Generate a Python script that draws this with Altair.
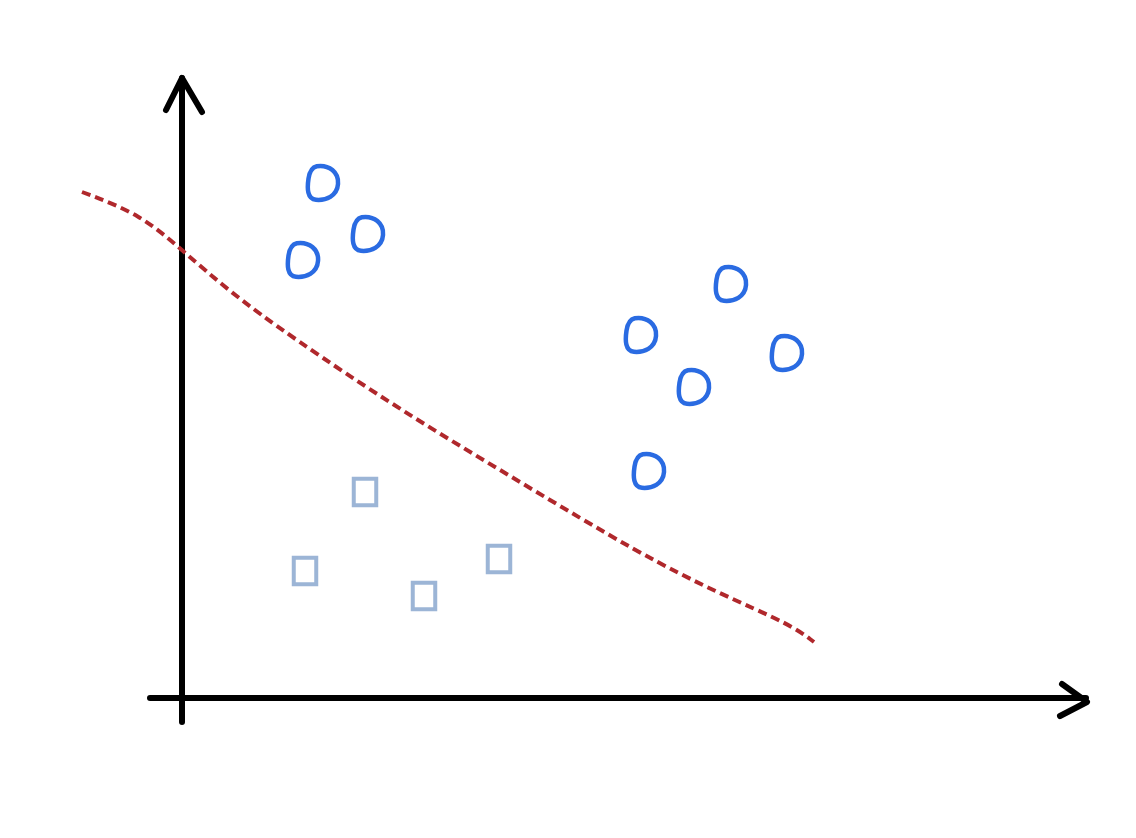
import altair as alt
import pandas as pd

# Hand-drawn sketch: two classes separated by a decision curve
circle_x = [323, 368, 303, 731, 641, 787, 694, 649]
circle_y = [183, 234, 260, 284, 335, 353, 387, 471]

square_x = [365, 305, 424, 499]
square_y = [492, 571, 596, 559]

curve_x = [82, 140, 182, 230, 290, 400, 520, 640, 720, 790, 814]
curve_y = [192, 214, 250, 292, 336, 410, 482, 554, 594, 624, 642]

# axis strokes (sketch lines)
axis_id = ["y", "y", "x", "x", "ya", "ya", "ya", "xa", "xa", "xa"]
axis_px = [182, 182, 150, 1086, 166, 182, 202, 1062, 1087, 1060]
axis_py = [78, 722, 698, 698, 110, 78, 112, 684, 702, 716]

W, H = 1120, 822
xs = alt.Scale(domain=[8, 8 + W], nice=False, zero=False)
ys = alt.Scale(domain=[8, 8 + H], nice=False, zero=False, reverse=True)

circles = pd.DataFrame({"x": circle_x, "y": circle_y})
squares = pd.DataFrame({"x": square_x, "y": square_y})
curve = pd.DataFrame({"x": curve_x, "y": curve_y, "o": list(range(len(curve_x)))})
axes = pd.DataFrame({"id": axis_id, "x": axis_px, "y": axis_py, "o": list(range(len(axis_id)))})

X = lambda: alt.X("x:Q", scale=xs, axis=None)
Y = lambda: alt.Y("y:Q", scale=ys, axis=None)

axis_layer = alt.Chart(axes).mark_line(
    color="black", strokeWidth=6, strokeCap="round", strokeJoin="round"
).encode(x=X(), y=Y(), detail="id:N", order="o:Q")

curve_layer = alt.Chart(curve).mark_line(
    color="#b0282c", strokeWidth=4, strokeDash=[9, 5], interpolate="basis"
).encode(x=X(), y=Y(), order="o:Q")

drop = ("M-0.35,-0.95 C0.35,-1.05 0.9,-0.6 0.85,0.05 C0.8,0.75 0.15,1.0 -0.4,0.95 "
        "C-0.9,0.9 -0.9,0.3 -0.82,-0.25 C-0.75,-0.7 -0.6,-0.9 -0.35,-0.95 Z")
circle_layer = alt.Chart(circles).mark_point(
    shape=drop, filled=False, color="#2a6be2", strokeWidth=4.5, size=1250, opacity=1
).encode(x=X(), y=Y())

square_layer = alt.Chart(squares).mark_point(
    shape="M-0.85,-1 L0.85,-1 L0.85,1 L-0.85,1 Z", filled=False, color="#9cb5d6",
    strokeWidth=4, size=700, opacity=1
).encode(x=X(), y=Y())

chart = alt.layer(axis_layer, curve_layer, square_layer, circle_layer).properties(
    width=W, height=H, padding=0,
    autosize=alt.AutoSizeParams(type="fit", contains="padding"),
    background="white",
).configure_view(stroke=None)

chart.save("out.html", embed_options={"renderer": "svg", "actions": False})
